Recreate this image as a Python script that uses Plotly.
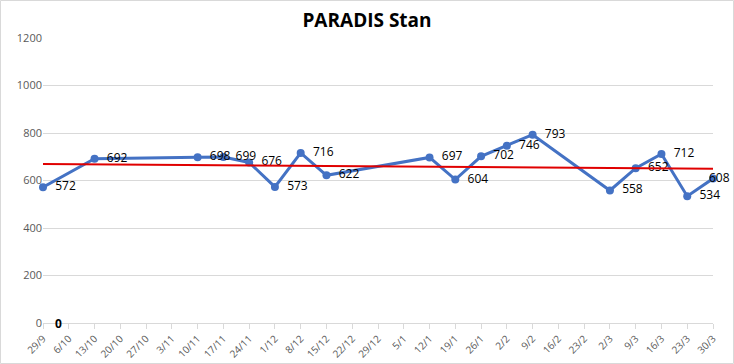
import numpy as np
import plotly.graph_objects as go

categories = ["29/9", "6/10", "13/10", "20/10", "27/10", "3/11", "10/11", "17/11", "24/11",
              "1/12", "8/12", "15/12", "22/12", "29/12", "5/1", "12/1", "19/1", "26/1",
              "2/2", "9/2", "16/2", "23/2", "2/3", "9/3", "16/3", "23/3", "30/3"]
values = [572, None, 692, None, None, None, 698, 699, 676,
          573, 716, 622, None, None, None, 697, 604, 702,
          746, 793, None, None, 558, 652, 712, 534, 608]
yticks = [0, 200, 400, 600, 800, 1000, 1200]

idx = np.arange(len(categories))
xs = [i for i, v in zip(idx, values) if v is not None]
ys = [v for v in values if v is not None]
slope, intercept = np.polyfit(xs, ys, 1)
trend = [intercept + slope * i for i in idx]

labels = ["  " + str(v) for v in ys]
positions = ["middle right"] * len(ys)
labels[-1] = "    " + str(ys[-1])
positions[-1] = "middle center"

fig = go.Figure()
fig.add_trace(go.Scatter(
    x=xs, y=ys, mode="lines+markers+text",
    text=labels, textposition=positions,
    textfont=dict(family="Open Sans", size=12, color="#000000"),
    line=dict(color="#4472C4", width=3),
    marker=dict(color="#4472C4", size=8),
    cliponaxis=False, showlegend=False,
))
fig.add_trace(go.Scatter(
    x=list(idx), y=trend, mode="lines",
    line=dict(color="#E00000", width=2),
    showlegend=False, hoverinfo="skip",
))

fig.add_annotation(x=1, y=0, text="<b>0</b>", showarrow=False, xshift=-10,
                   font=dict(family="Open Sans", size=12, color="#000000"))

W, H = 734, 364
L, R, T, B = 43, 21, 38, 41
pw, ph = W - L - R, H - T - B
fig.add_shape(type="rect", xref="paper", yref="paper",
              x0=(0.5 - L) / pw, x1=(W - 0.5 - L) / pw,
              y0=(ph - (H - 0.5 - T)) / ph, y1=(ph - (0.5 - T)) / ph,
              line=dict(color="#D9D9D9", width=1), layer="below")

fig.update_layout(
    width=W, height=H,
    margin=dict(l=L, r=R, t=T, b=B, autoexpand=False),
    paper_bgcolor="white", plot_bgcolor="white",
    title=dict(text="<b>PARADIS Stan</b>", x=0.5, xanchor="center", y=1 - 20 / H, yanchor="middle",
               font=dict(family="Open Sans", size=19, color="#000000")),
    xaxis=dict(
        tickmode="array", tickvals=list(idx), ticktext=categories,
        range=[0, len(categories) - 1], tickangle=-45,
        tickfont=dict(family="Open Sans", size=10, color="#595959"),
        showgrid=False, zeroline=False, showline=True, linecolor="#D9D9D9", linewidth=1,
        ticks="outside", ticklen=5, tickcolor="#D9D9D9", automargin=False,
    ),
    yaxis=dict(
        tickvals=yticks, range=[0, 1200],
        tickfont=dict(family="Open Sans", size=11, color="#595959"),
        showgrid=True, gridcolor="#D9D9D9", gridwidth=1, zeroline=False,
        showline=False, ticks="", automargin=False,
    ),
)

fig.write_html("out.html", config={"displayModeBar": False},
               post_script="document.body.style.margin='0';document.body.style.overflow='hidden';")
